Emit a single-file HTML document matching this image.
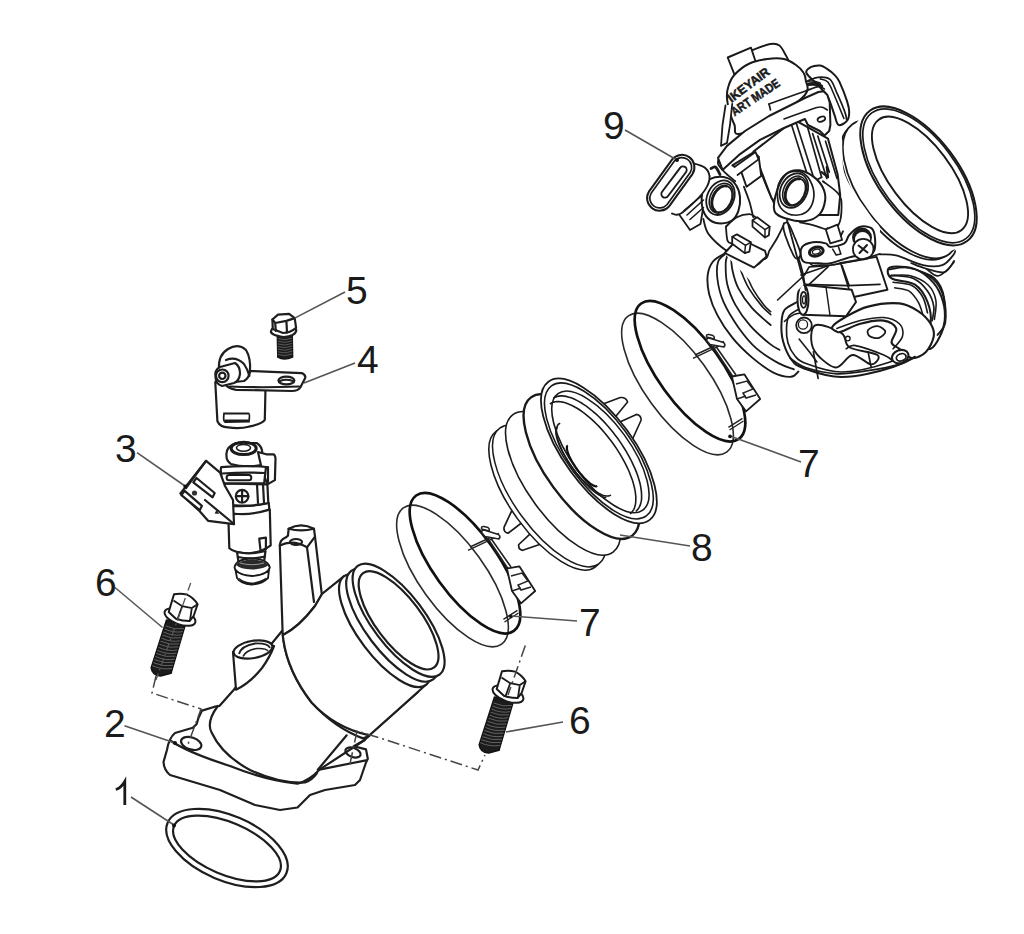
<!DOCTYPE html>
<html><head><meta charset="utf-8">
<style>
html,body{margin:0;padding:0;background:#fff;width:1024px;height:934px;overflow:hidden}
svg{display:block}
.t{font-family:"Liberation Sans",sans-serif;font-size:39px;fill:#1a1a1a}
.ld{stroke:#555;stroke-width:1.6;fill:none}
.s{stroke:#1e1e1e;stroke-width:2.2;fill:none;stroke-linejoin:round;stroke-linecap:round}
.f{stroke:#1e1e1e;stroke-width:2.2;fill:#fff;stroke-linejoin:round;stroke-linecap:round}
</style></head><body>
<svg width="1024" height="934" viewBox="0 0 1024 934">
<rect width="1024" height="934" fill="#fff"/>

<!-- 9 tb -->
<g id="tb">
<path d="M725.0,253.2 C720.7,253.5 715.8,257.9 713.0,261.5 C710.1,265.1 708.4,269.5 707.7,275.0 C707.1,280.5 707.6,287.7 709.2,294.4 C710.9,301.2 713.6,308.2 717.5,315.4 C721.3,322.7 726.7,330.9 732.5,337.9 C738.2,344.9 745.2,351.6 751.9,357.4 C758.7,363.1 766.4,369.1 772.9,372.3 C779.4,375.6 786.4,377.1 790.9,376.8 C795.4,376.6 800.9,377.8 799.9,370.8 C798.9,363.9 789.9,344.4 784.9,334.9 C779.9,325.4 774.9,321.4 769.9,313.9 C764.9,306.4 760.2,298.9 754.9,289.9 C749.7,281.0 743.4,266.1 738.4,260.0 C733.5,253.9 729.2,253.0 725.0,253.2 Z" fill="#fff" stroke="none" stroke-width="0.0" stroke-linejoin="round" stroke-linecap="round" />
<path d="M725.0,253.2 C723.0,254.6 715.8,257.9 713.0,261.5 C710.1,265.1 708.4,269.5 707.7,275.0 C707.1,280.5 707.6,287.7 709.2,294.4 C710.9,301.2 713.6,308.2 717.5,315.4 C721.3,322.7 726.7,330.9 732.5,337.9 C738.2,344.9 745.2,351.6 751.9,357.4 C758.7,363.1 766.4,369.1 772.9,372.3 C779.4,375.6 786.6,377.0 790.9,376.8 C795.1,376.7 797.1,372.5 798.4,371.6" fill="none" stroke="#1a1a1a" stroke-width="1.9040000000000001" stroke-linejoin="round" stroke-linecap="round" />
<path d="M726.5,253.2 C725.1,254.6 719.7,257.1 718.2,261.5 C716.7,265.8 716.6,272.7 717.5,279.5 C718.3,286.2 720.0,293.9 723.5,301.9 C727.0,309.9 733.0,319.7 738.4,327.4 C743.9,335.1 749.7,342.4 756.4,348.4 C763.2,354.4 772.7,359.9 778.9,363.4 C785.1,366.8 791.4,368.3 793.9,369.3" fill="none" stroke="#1a1a1a" stroke-width="1.7920000000000003" stroke-linejoin="round" stroke-linecap="round" />
<path d="M728.0,254.0 C727.6,255.5 725.8,258.0 725.7,263.0 C725.6,268.0 725.6,277.0 727.2,284.0 C728.8,290.9 731.6,297.9 735.4,304.9 C739.3,311.9 744.7,319.4 750.4,325.9 C756.2,332.4 765.0,339.9 769.9,343.9 C774.8,347.9 778.0,348.9 779.6,349.9" fill="none" stroke="#1a1a1a" stroke-width="1.7920000000000003" stroke-linejoin="round" stroke-linecap="round" />
<path d="M731.0,255.5 C731.2,258.0 731.2,265.0 732.5,270.5 C733.7,276.0 735.2,282.2 738.4,288.4 C741.7,294.7 746.6,301.8 751.9,307.9 C757.3,314.0 767.5,322.3 770.7,325.1" fill="none" stroke="#1a1a1a" stroke-width="1.7920000000000003" stroke-linejoin="round" stroke-linecap="round" />
<path d="M738.4,260.0 C738.9,262.0 739.7,267.2 741.4,272.0 C743.2,276.7 745.7,283.0 748.9,288.4 C752.2,293.9 757.3,300.6 760.9,304.9 C764.5,309.3 769.0,313.0 770.7,314.7" fill="none" stroke="#1a1a1a" stroke-width="1.6800000000000002" stroke-linejoin="round" stroke-linecap="round" />
<path d="M742.9,263.0 C743.6,265.0 744.9,270.5 746.7,275.0 C748.4,279.5 750.6,285.0 753.4,289.9 C756.3,294.9 761.0,301.3 763.9,304.9 C766.8,308.5 769.5,310.5 770.7,311.7" fill="none" stroke="#1a1a1a" stroke-width="1.568" stroke-linejoin="round" stroke-linecap="round" />
<ellipse cx="897.7" cy="191.5" rx="80.0" ry="39.0" transform="rotate(53.2 897.7 191.5)" fill="#fff" stroke="#1a1a1a" stroke-width="1.7920000000000003"/>
<ellipse cx="900.9" cy="189.1" rx="81.0" ry="39.7" transform="rotate(53.2 900.9 189.1)" fill="#fff" stroke="#1a1a1a" stroke-width="1.7920000000000003"/>
<ellipse cx="909.7" cy="182.5" rx="81.0" ry="39.7" transform="rotate(53.2 909.7 182.5)" fill="#fff" stroke="none" stroke-width="0.0"/>
<ellipse cx="918.5" cy="175.9" rx="81.3" ry="39.7" transform="rotate(53.2 918.5 175.9)" fill="#fff" stroke="#1a1a1a" stroke-width="2.0160000000000005"/>
<ellipse cx="918.8" cy="175.8" rx="78.5" ry="37.8" transform="rotate(53.2 918.8 175.8)" fill="none" stroke="#1a1a1a" stroke-width="1.6800000000000002"/>
<ellipse cx="920.0" cy="174.9" rx="69.0" ry="30.5" transform="rotate(53.2 920.0 174.9)" fill="none" stroke="#1a1a1a" stroke-width="1.9040000000000001"/>
<path d="M880.0,254.4 C882.7,254.6 889.0,253.7 896.1,255.4 C903.3,257.2 915.3,263.5 923.0,265.1 C930.7,266.7 937.3,266.7 942.3,265.1 C947.3,263.5 950.9,257.8 953.0,255.4 C955.2,253.1 954.8,251.9 955.2,251.1" fill="none" stroke="#1a1a1a" stroke-width="1.7920000000000003" stroke-linejoin="round" stroke-linecap="round" />
<path d="M911.1,263.0 C913.5,263.9 919.6,266.8 925.1,268.3 C930.7,269.9 939.6,273.3 944.4,272.1 C949.3,270.8 952.5,262.7 954.1,260.8" fill="none" stroke="#1a1a1a" stroke-width="1.6800000000000002" stroke-linejoin="round" stroke-linecap="round" />
<path d="M926.2,268.9 C928.0,270.0 933.5,275.6 936.9,275.9 C940.3,276.1 943.7,272.8 946.6,270.5 C949.5,268.2 952.9,263.3 954.1,261.9" fill="none" stroke="#1a1a1a" stroke-width="1.6800000000000002" stroke-linejoin="round" stroke-linecap="round" />
<path d="M797.0,302.0 C794.9,303.3 787.1,306.5 784.5,310.0 C781.9,313.5 781.8,317.8 781.5,323.0 C781.2,328.2 781.4,335.0 783.0,341.0 C784.6,347.0 787.7,354.5 791.0,359.0 C794.3,363.5 794.5,365.0 803.0,368.0 C811.5,371.0 827.0,377.2 842.0,377.0 C857.0,376.8 879.0,371.7 893.0,367.0 C907.0,362.3 918.0,355.8 926.0,349.0 C934.0,342.2 938.0,334.5 941.0,326.0 C944.0,317.5 945.2,306.0 944.0,298.0 C942.8,290.0 939.5,282.8 934.0,278.0 C928.5,273.2 918.3,270.7 911.0,269.0 C903.7,267.3 893.5,268.2 890.0,268.0" fill="#fff" stroke="#1a1a1a" stroke-width="2.0160000000000005" stroke-linejoin="round" stroke-linecap="round" />
<path d="M799.0,309.0 C797.3,310.2 791.1,312.8 789.0,316.0 C786.9,319.2 786.7,323.5 786.5,328.0 C786.3,332.5 786.6,338.3 788.0,343.0 C789.4,347.7 792.0,352.6 795.0,356.0 C798.0,359.4 798.2,360.8 806.0,363.5 C813.8,366.2 828.0,372.2 842.0,372.0 C856.0,371.8 876.8,366.5 890.0,362.0 C903.2,357.5 913.5,351.5 921.0,345.0 C928.5,338.5 932.2,330.8 935.0,323.0 C937.8,315.2 939.0,304.8 938.0,298.0 C937.0,291.2 934.0,286.0 929.0,282.0 C924.0,278.0 914.5,275.3 908.0,274.0 C901.5,272.7 893.0,274.0 890.0,274.0" fill="none" stroke="#1a1a1a" stroke-width="1.6800000000000002" stroke-linejoin="round" stroke-linecap="round" />
<path d="M784.4,321.4 C786.4,320.1 790.3,315.4 796.6,313.8 C802.9,312.1 816.1,311.2 822.0,311.2 C827.9,311.2 830.4,313.3 832.1,313.8" fill="none" stroke="#1a1a1a" stroke-width="1.568" stroke-linejoin="round" stroke-linecap="round" />
<path d="M890.0,267.5 C893.9,265.9 907.7,266.5 915.0,269.1 C922.3,271.7 929.1,277.7 933.8,283.1 C938.4,288.6 941.3,295.6 943.1,301.9 C944.9,308.1 945.2,314.9 944.7,320.6 C944.2,326.4 942.3,331.6 940.0,336.2 C937.7,340.9 933.5,347.7 930.6,348.8 C927.8,349.8 922.8,346.7 922.8,342.5 C922.8,338.3 929.8,330.5 930.6,323.8 C931.4,317.0 930.1,308.4 927.5,301.9 C924.9,295.4 921.0,288.6 915.0,284.7 C909.0,280.8 895.7,281.3 891.6,278.4 C887.4,275.6 886.1,269.1 890.0,267.5 Z" fill="#fff" stroke="#1a1a1a" stroke-width="2.0160000000000005" stroke-linejoin="round" stroke-linecap="round" />
<path d="M891.6,275.3 C895.2,275.8 907.4,275.8 913.4,278.4 C919.4,281.0 924.1,286.2 927.5,290.9 C930.9,295.6 933.0,301.6 933.8,306.6 C934.5,311.5 932.4,318.3 932.2,320.6" fill="none" stroke="#1a1a1a" stroke-width="1.6800000000000002" stroke-linejoin="round" stroke-linecap="round" />
<path d="M893.1,282.3 C896.2,282.9 906.9,283.0 911.9,285.5 C916.8,287.9 920.2,292.6 922.8,297.2 C925.4,301.7 926.7,310.2 927.5,312.8" fill="none" stroke="#1a1a1a" stroke-width="1.6800000000000002" stroke-linejoin="round" stroke-linecap="round" />
<path d="M894.7,287.8 C897.0,288.3 904.8,288.6 908.8,290.9 C912.7,293.3 915.8,298.0 918.1,301.9 C920.5,305.8 922.0,312.3 922.8,314.4" fill="none" stroke="#1a1a1a" stroke-width="1.568" stroke-linejoin="round" stroke-linecap="round" />
<path d="M815.0,325.3 C810.3,327.9 810.1,341.7 813.4,348.8 C816.8,355.8 828.8,366.5 835.3,367.5 C841.8,368.5 846.5,355.5 852.5,355.0 C858.5,354.5 867.1,364.4 871.2,364.4 C875.4,364.4 881.1,357.9 877.5,355.0 C873.9,352.1 855.4,350.8 849.4,347.2 C843.4,343.5 847.3,336.8 841.6,333.1 C835.8,329.5 819.7,322.7 815.0,325.3 Z" fill="#fff" stroke="#1a1a1a" stroke-width="1.9040000000000001" stroke-linejoin="round" stroke-linecap="round" />
<path d="M813.4,351.9 L818.1,378.4" fill="none" stroke="#1a1a1a" stroke-width="1.6800000000000002" stroke-linejoin="round" stroke-linecap="round" />
<path d="M868.1,351.9 L871.2,367.5" fill="none" stroke="#1a1a1a" stroke-width="1.6800000000000002" stroke-linejoin="round" stroke-linecap="round" />
<path d="M832.2,326.9 C833.5,324.5 838.7,320.9 844.7,317.5 C850.7,314.1 859.0,308.9 868.1,306.6 C877.2,304.2 891.0,302.7 899.4,303.4 C907.7,304.2 912.9,307.9 918.1,311.2 C923.3,314.6 928.0,319.6 930.6,323.8 C933.2,327.9 934.5,331.6 933.8,336.2 C933.0,340.9 929.6,348.2 925.9,351.9 C922.3,355.5 916.3,358.6 911.9,358.1 C907.4,357.6 902.8,351.4 899.4,348.8 C896.0,346.1 892.1,345.9 891.6,342.5 C891.0,339.1 897.6,332.1 896.2,328.4 C894.9,324.8 889.7,321.4 883.8,320.6 C877.8,319.8 867.3,321.9 860.3,323.8 C853.3,325.6 845.5,330.3 841.6,331.6 C837.7,332.9 838.4,332.3 836.9,331.6 C835.3,330.8 830.9,329.2 832.2,326.9 Z" fill="#fff" stroke="#1a1a1a" stroke-width="2.128" stroke-linejoin="round" stroke-linecap="round" />
<path d="M836.9,328.4 C840.8,327.1 852.5,322.4 860.3,320.6 C868.1,318.8 877.2,317.0 883.8,317.5 C890.3,318.0 896.2,320.6 899.4,323.8 C902.5,326.9 903.5,332.1 902.5,336.2 C901.5,340.4 894.7,346.7 893.1,348.8" fill="none" stroke="#1a1a1a" stroke-width="1.568" stroke-linejoin="round" stroke-linecap="round" />
<path d="M868.1,330.0 C869.4,328.3 874.6,325.8 877.5,326.1 C880.4,326.4 885.1,329.6 885.3,331.6 C885.6,333.5 881.7,337.0 879.1,337.8 C876.5,338.6 871.5,337.6 869.7,336.2 C867.9,334.9 866.8,331.7 868.1,330.0 Z" fill="none" stroke="#1a1a1a" stroke-width="1.7920000000000003" stroke-linejoin="round" stroke-linecap="round" />
<circle cx="847.8" cy="338.6" r="2.3" fill="none" stroke="#1a1a1a" stroke-width="1.4"/>
<path d="M846.2,348.8 C847.8,348.2 849.4,344.6 855.6,345.6 C861.9,346.7 877.5,352.4 883.8,355.0 C890.0,357.6 891.6,360.2 893.1,361.2" fill="none" stroke="#1a1a1a" stroke-width="1.6800000000000002" stroke-linejoin="round" stroke-linecap="round" />
<ellipse cx="900.2" cy="356.6" rx="8.5" ry="6.5" transform="rotate(-20 900.2 356.6)" fill="#fff" stroke="#1a1a1a" stroke-width="2.128"/>
<ellipse cx="901.2" cy="357.3" rx="5.0" ry="3.5" transform="rotate(-20 901.2 357.3)" fill="#fff" stroke="#1a1a1a" stroke-width="1.7920000000000003"/>
<path d="M790.0,358.1 C792.6,359.7 797.8,364.9 805.6,367.5 C813.4,370.1 826.5,373.2 836.9,373.8 C847.3,374.3 857.7,372.2 868.1,370.6 C878.5,369.1 891.6,366.7 899.4,364.4 C907.2,362.0 912.4,357.9 915.0,356.6" fill="none" stroke="#1a1a1a" stroke-width="1.7920000000000003" stroke-linejoin="round" stroke-linecap="round" />
<circle cx="804" cy="325.3" r="7.8" fill="#fff" stroke="#1a1a1a" stroke-width="1.8"/>
<circle cx="803" cy="324.5" r="4.6" fill="none" stroke="#1a1a1a" stroke-width="1.3"/>
<path d="M799.1,339.1 L809.3,351.8 L816.9,362.0" fill="none" stroke="#1a1a1a" stroke-width="1.568" stroke-linejoin="round" stroke-linecap="round" />
<path d="M800.0,272.0 L840.6,263.0 L876.6,256.9 L887.5,289.7 L851.6,297.5 L804.0,286.0 Z" fill="#fff" stroke="#1a1a1a" stroke-width="1.9040000000000001" stroke-linejoin="round" stroke-linecap="round" />
<path d="M840.6,263.0 L851.6,297.5" fill="none" stroke="#1a1a1a" stroke-width="1.6800000000000002" stroke-linejoin="round" stroke-linecap="round" />
<path d="M803.0,284.8 L851.6,289.7 L856.0,302.0 L846.0,316.3 L803.0,314.8 Z" fill="#fff" stroke="#1a1a1a" stroke-width="2.0160000000000005" stroke-linejoin="round" stroke-linecap="round" />
<path d="M826.0,287.0 L830.0,315.5" fill="none" stroke="#1a1a1a" stroke-width="1.4560000000000002" stroke-linejoin="round" stroke-linecap="round" />
<ellipse cx="803.0" cy="299.8" rx="5.5" ry="15.0" transform="rotate(0 803.0 299.8)" fill="#fff" stroke="#1a1a1a" stroke-width="2.0160000000000005"/>
<ellipse cx="803.6" cy="299.8" rx="3.0" ry="8.0" transform="rotate(0 803.6 299.8)" fill="none" stroke="#1a1a1a" stroke-width="1.6800000000000002"/>
<ellipse cx="804.0" cy="299.8" rx="1.5" ry="4.0" transform="rotate(0 804.0 299.8)" fill="none" stroke="#1a1a1a" stroke-width="1.344"/>
<path d="M889.1,269.4 C892.4,269.1 902.1,266.2 909.4,267.8 C916.7,269.4 927.1,273.8 932.8,278.8 C938.5,283.7 941.7,290.2 943.8,297.5 C945.8,304.8 946.4,316.2 945.3,322.5 C944.3,328.8 938.8,332.9 937.5,335.0" fill="none" stroke="#1a1a1a" stroke-width="1.7920000000000003" stroke-linejoin="round" stroke-linecap="round" />
<path d="M890.6,275.6 C893.8,275.6 903.1,274.1 909.4,275.6 C915.6,277.2 923.7,280.8 928.1,285.0 C932.6,289.2 934.9,294.9 935.9,300.6 C937.0,306.4 934.6,316.2 934.4,319.4" fill="none" stroke="#1a1a1a" stroke-width="1.568" stroke-linejoin="round" stroke-linecap="round" />
<path d="M717.0,160.0 C726.5,151.7 746.2,142.0 760.0,135.0 C773.8,128.0 787.0,119.7 800.0,118.0 C813.0,116.3 830.5,115.5 838.0,125.0 C845.5,134.5 839.7,160.0 845.0,175.0 C850.3,190.0 864.2,205.8 870.0,215.0 C875.8,224.2 880.0,223.3 880.0,230.0 C880.0,236.7 876.7,249.7 870.0,255.0 C863.3,260.3 850.8,257.2 840.0,262.0 C829.2,266.8 815.7,276.7 805.0,284.0 C794.3,291.3 786.0,307.5 776.0,306.0 C766.0,304.5 754.7,285.2 745.0,275.0 C735.3,264.8 725.0,255.0 718.0,245.0 C711.0,235.0 705.5,225.0 703.0,215.0 C700.5,205.0 700.7,194.2 703.0,185.0 C705.3,175.8 707.5,168.3 717.0,160.0 Z" fill="#fff" stroke="none" stroke-width="0.0" stroke-linejoin="round" stroke-linecap="round" />
<path d="M704.8,183.6 C707.1,180.3 711.2,178.3 715.0,177.3 C718.8,176.4 724.0,176.8 727.5,178.1 C731.0,179.4 734.0,182.0 736.1,185.2 C738.2,188.3 739.6,192.6 740.0,196.9 C740.4,201.2 739.7,207.0 738.4,210.9 C737.1,214.8 735.1,218.2 732.2,220.3 C729.3,222.4 724.9,223.4 721.2,223.4 C717.6,223.4 713.3,222.4 710.3,220.3 C707.3,218.2 704.7,214.8 703.3,210.9 C701.8,207.0 701.5,201.4 701.7,196.9 C702.0,192.3 702.6,186.8 704.8,183.6 Z" fill="#fff" stroke="#1a1a1a" stroke-width="2.0160000000000005" stroke-linejoin="round" stroke-linecap="round" />
<ellipse cx="720.5" cy="197.7" rx="13.3" ry="18.0" transform="rotate(25 720.5 197.7)" fill="#fff" stroke="#1a1a1a" stroke-width="1.7920000000000003"/>
<ellipse cx="721.2" cy="198.2" rx="11.0" ry="15.6" transform="rotate(25 721.2 198.2)" fill="none" stroke="#1a1a1a" stroke-width="1.568"/>
<ellipse cx="722.0" cy="199.0" rx="9.2" ry="13.8" transform="rotate(25 722.0 199.0)" fill="none" stroke="#1a1a1a" stroke-width="1.568"/>
<path d="M714.8,210.6 L714.2,210.0 L713.6,209.3 L713.1,208.5 L712.7,207.7 L712.3,206.7 L712.1,205.7 L711.9,204.6 L711.8,203.5 L711.8,202.3 L711.9,201.1 L712.1,199.9 L712.4,198.7 L712.7,197.5 L713.2,196.3 L713.7,195.1 L714.2,194.0 L714.9,192.9 L715.6,191.8 L716.4,190.8 L717.2,189.9 L718.0,189.1 L718.9,188.3 L719.8,187.7 L720.8,187.1 L721.7,186.6 L722.6,186.3 L723.6,186.1 L724.5,185.9 L725.4,185.9 L726.3,186.0" fill="none" stroke="#1a1a1a" stroke-width="2.9120000000000004" stroke-linejoin="round" stroke-linecap="round" />
<path d="M719.7,156.2 C719.4,157.6 717.1,161.2 718.1,164.1 C719.2,166.9 723.1,170.6 725.9,173.4 C728.8,176.3 733.8,179.9 735.3,181.2" fill="none" stroke="#1a1a1a" stroke-width="1.7920000000000003" stroke-linejoin="round" stroke-linecap="round" />
<path d="M755.6,153.9 C756.9,157.9 760.8,171.0 763.4,178.1 C766.0,185.3 768.9,191.7 771.2,196.9 C773.6,202.1 774.9,206.0 777.5,209.4 C780.1,212.8 785.3,215.9 786.9,217.2" fill="none" stroke="#1a1a1a" stroke-width="1.9040000000000001" stroke-linejoin="round" stroke-linecap="round" />
<path d="M743.9,186.7 C744.8,189.2 747.8,196.5 749.4,201.6 C750.9,206.6 752.6,214.6 753.3,217.2" fill="none" stroke="#1a1a1a" stroke-width="1.7920000000000003" stroke-linejoin="round" stroke-linecap="round" />
<path d="M703.3,218.8 C704.2,221.4 704.7,228.9 708.8,234.4 C712.8,239.8 720.2,246.4 727.5,251.6 C734.8,256.8 746.5,264.3 752.5,265.6 C758.5,266.9 761.6,260.4 763.4,259.4" fill="none" stroke="#1a1a1a" stroke-width="1.7920000000000003" stroke-linejoin="round" stroke-linecap="round" />
<path d="M725.9,226.6 C727.8,225.0 733.0,219.3 736.9,217.2 C740.8,215.1 746.2,214.1 749.4,214.1 C752.5,214.1 754.6,216.7 755.6,217.2" fill="none" stroke="#1a1a1a" stroke-width="1.7920000000000003" stroke-linejoin="round" stroke-linecap="round" />
<path d="M725.9,226.6 C726.2,228.9 726.5,237.8 727.5,240.6 C728.5,243.5 731.4,243.2 732.2,243.8" fill="none" stroke="#1a1a1a" stroke-width="1.7920000000000003" stroke-linejoin="round" stroke-linecap="round" />
<path d="M725.9,250.0 C727.5,251.0 729.1,254.7 735.3,256.2 C741.6,257.8 757.7,260.4 763.4,259.4 C769.2,258.3 767.3,253.6 769.7,250.0 C772.0,246.4 775.2,241.7 777.5,237.5 C779.8,233.3 782.7,227.1 783.8,225.0" fill="none" stroke="#1a1a1a" stroke-width="1.7920000000000003" stroke-linejoin="round" stroke-linecap="round" />
<path d="M752.5,220.3 L757.2,217.2 L769.7,226.6 L768.9,235.2 L765.0,237.5 L752.5,226.6 Z" fill="#fff" stroke="#1a1a1a" stroke-width="1.7920000000000003" stroke-linejoin="round" stroke-linecap="round" />
<path d="M752.5,220.3 L765.0,229.7 L769.7,226.6" fill="none" stroke="#1a1a1a" stroke-width="1.4560000000000002" stroke-linejoin="round" stroke-linecap="round" />
<path d="M765.0,229.7 L765.0,237.5" fill="none" stroke="#1a1a1a" stroke-width="1.4560000000000002" stroke-linejoin="round" stroke-linecap="round" />
<path d="M749.0,243.0 L765.1,250.9 L766.5,256.4 L754.0,267.6 L724.8,253.0 L733.0,244.0 Z" fill="#fff" stroke="#1a1a1a" stroke-width="1.9040000000000001" stroke-linejoin="round" stroke-linecap="round" />
<path d="M732.2,236.7 L736.9,234.4 L750.9,242.2 L749.4,251.6 L744.7,253.1 L732.2,243.8 Z" fill="#fff" stroke="#1a1a1a" stroke-width="1.7920000000000003" stroke-linejoin="round" stroke-linecap="round" />
<path d="M732.2,236.7 L745.5,245.3 L750.9,242.2" fill="none" stroke="#1a1a1a" stroke-width="1.4560000000000002" stroke-linejoin="round" stroke-linecap="round" />
<path d="M745.5,245.3 L744.7,253.1" fill="none" stroke="#1a1a1a" stroke-width="1.4560000000000002" stroke-linejoin="round" stroke-linecap="round" />
<path d="M753.5,151.5 L790.8,122.6 L797.2,121.3 L807.5,127.1 L828.0,138.7 L837.7,174.6 L840.2,195.2 L838.3,215.0 L786.9,215.0 L779.2,208.0 L771.5,197.8 L766.4,184.9 L754.8,154.1 Z" fill="#fff" stroke="#1a1a1a" stroke-width="2.0160000000000005" stroke-linejoin="round" stroke-linecap="round" />
<path d="M790.8,122.6 L810.1,183.6" fill="none" stroke="#1a1a1a" stroke-width="1.6800000000000002" stroke-linejoin="round" stroke-linecap="round" />
<path d="M795.9,122.0 L813.9,178.5" fill="none" stroke="#1a1a1a" stroke-width="1.6800000000000002" stroke-linejoin="round" stroke-linecap="round" />
<path d="M807.5,127.1 L821.6,177.2" fill="none" stroke="#1a1a1a" stroke-width="1.6800000000000002" stroke-linejoin="round" stroke-linecap="round" />
<path d="M812.6,133.5 L826.8,178.5" fill="none" stroke="#1a1a1a" stroke-width="1.6800000000000002" stroke-linejoin="round" stroke-linecap="round" />
<path d="M817.8,136.1 L829.3,172.1" fill="none" stroke="#1a1a1a" stroke-width="1.6800000000000002" stroke-linejoin="round" stroke-linecap="round" />
<path d="M825.5,141.2 L837.0,178.5" fill="none" stroke="#1a1a1a" stroke-width="1.6800000000000002" stroke-linejoin="round" stroke-linecap="round" />
<path d="M821.6,172.1 L828.0,177.2 L826.8,166.9" fill="none" stroke="#1a1a1a" stroke-width="2.24" stroke-linejoin="round" stroke-linecap="round" />
<path d="M810.1,183.6 L821.6,177.2" fill="none" stroke="#1a1a1a" stroke-width="1.6800000000000002" stroke-linejoin="round" stroke-linecap="round" />
<path d="M732.3,165.4 L753.5,152.2 L758.7,156.7 L761.2,175.9 L746.5,186.8 L740.7,170.1 Z" fill="#fff" stroke="#1a1a1a" stroke-width="1.9040000000000001" stroke-linejoin="round" stroke-linecap="round" />
<path d="M740.7,170.1 L754.8,159.2 L758.7,156.7" fill="none" stroke="#1a1a1a" stroke-width="1.6800000000000002" stroke-linejoin="round" stroke-linecap="round" />
<path d="M774.4,210.9 C772.8,206.0 775.4,195.3 777.5,189.1 C779.6,182.8 783.2,176.6 786.9,173.4 C790.5,170.3 794.9,169.8 799.4,170.3 C803.8,170.8 809.5,173.7 813.4,176.6 C817.3,179.4 820.9,183.6 822.8,187.5 C824.8,191.4 825.7,195.6 825.2,200.0 C824.6,204.4 822.9,210.5 819.7,214.1 C816.4,217.6 811.1,220.3 805.6,221.1 C800.2,221.9 792.1,220.4 786.9,218.8 C781.7,217.1 775.9,215.9 774.4,210.9 Z" fill="#fff" stroke="#1a1a1a" stroke-width="2.0160000000000005" stroke-linejoin="round" stroke-linecap="round" />
<path d="M779.1,182.8 C780.9,178.8 784.5,174.3 788.4,172.7 C792.3,171.0 798.6,170.7 802.5,172.7 C806.4,174.6 810.1,179.8 811.9,184.4 C813.7,188.9 814.5,195.3 813.4,200.0 C812.4,204.7 809.3,210.0 805.6,212.5 C802.0,215.0 795.7,215.6 791.6,214.8 C787.4,214.1 783.0,210.8 780.6,207.8 C778.3,204.8 777.8,201.0 777.5,196.9 C777.2,192.7 777.2,186.8 779.1,182.8 Z" fill="none" stroke="#1a1a1a" stroke-width="1.6800000000000002" stroke-linejoin="round" stroke-linecap="round" />
<ellipse cx="793.9" cy="190.6" rx="13.3" ry="18.0" transform="rotate(25 793.9 190.6)" fill="#fff" stroke="#1a1a1a" stroke-width="1.7920000000000003"/>
<ellipse cx="794.6" cy="191.0" rx="11.0" ry="15.6" transform="rotate(25 794.6 191.0)" fill="none" stroke="#1a1a1a" stroke-width="1.568"/>
<ellipse cx="795.4" cy="191.8" rx="9.2" ry="13.8" transform="rotate(25 795.4 191.8)" fill="none" stroke="#1a1a1a" stroke-width="1.568"/>
<path d="M788.2,203.4 L787.6,202.8 L787.0,202.1 L786.5,201.3 L786.1,200.5 L785.7,199.5 L785.5,198.5 L785.3,197.4 L785.2,196.3 L785.2,195.1 L785.3,193.9 L785.5,192.7 L785.8,191.5 L786.1,190.3 L786.6,189.1 L787.1,187.9 L787.6,186.8 L788.3,185.7 L789.0,184.6 L789.8,183.6 L790.6,182.7 L791.4,181.9 L792.3,181.1 L793.2,180.5 L794.2,179.9 L795.1,179.4 L796.0,179.1 L797.0,178.9 L797.9,178.7 L798.8,178.7 L799.7,178.8" fill="none" stroke="#1a1a1a" stroke-width="2.9120000000000004" stroke-linejoin="round" stroke-linecap="round" />
<path d="M822.8,181.2 C825.4,183.3 835.3,189.6 838.4,193.8 C841.6,197.9 841.6,201.0 841.6,206.2 C841.6,211.5 840.8,221.1 838.4,225.0 C836.1,228.9 829.3,228.9 827.5,229.7" fill="none" stroke="#1a1a1a" stroke-width="1.7920000000000003" stroke-linejoin="round" stroke-linecap="round" />
<path d="M827.5,228.1 L829.1,239.8 L840.0,237.5 L843.1,231.2" fill="none" stroke="#1a1a1a" stroke-width="1.7920000000000003" stroke-linejoin="round" stroke-linecap="round" />
<path d="M783.8,223.4 C784.8,225.8 787.7,232.0 790.0,237.5 C792.3,243.0 795.7,250.5 797.8,256.2 C799.9,262.0 801.2,266.2 802.5,271.9 C803.8,277.5 805.1,287.0 805.6,290.0" fill="none" stroke="#1a1a1a" stroke-width="1.7920000000000003" stroke-linejoin="round" stroke-linecap="round" />
<path d="M786.1,225.0 C787.1,227.6 790.1,235.2 792.3,240.6 C794.6,246.1 798.2,254.9 799.4,257.8" fill="none" stroke="#1a1a1a" stroke-width="1.568" stroke-linejoin="round" stroke-linecap="round" />
<path d="M783.4,225.2 C783.9,223.3 786.2,221.2 788.1,223.4 C790.1,225.7 793.1,233.7 795.2,238.7 C797.2,243.7 800.1,250.0 800.4,253.3 C800.8,256.7 798.7,258.3 797.5,258.6 C796.3,258.9 795.5,259.0 793.4,255.1 C791.4,251.2 786.9,240.2 785.2,235.2 C783.5,230.2 783.0,227.2 783.4,225.2 Z" fill="#fff" stroke="#1a1a1a" stroke-width="1.7920000000000003" stroke-linejoin="round" stroke-linecap="round" />
<path d="M825.7,229.3 L830.3,243.4 L842.1,239.9 L837.4,224.6 Z" fill="#fff" stroke="#1a1a1a" stroke-width="1.7920000000000003" stroke-linejoin="round" stroke-linecap="round" />
<path d="M799.9,222.3 C802.0,222.8 808.5,224.0 812.8,225.2 C817.1,226.4 823.5,228.6 825.7,229.3" fill="none" stroke="#1a1a1a" stroke-width="1.7920000000000003" stroke-linejoin="round" stroke-linecap="round" />
<path d="M801.0,256.3 C800.6,253.7 800.3,249.2 802.2,246.9 C804.2,244.5 808.8,242.8 812.8,242.2 C816.7,241.6 822.7,242.6 825.7,243.4 C828.6,244.2 827.2,246.9 830.3,246.9 C833.5,246.9 841.3,245.3 844.4,243.4 C847.5,241.4 846.6,237.9 849.1,235.2 C851.6,232.4 855.9,228.1 859.6,227.0 C863.4,225.8 868.8,226.4 871.4,228.1 C873.9,229.9 874.5,233.6 874.9,237.5 C875.3,241.4 875.7,248.3 873.7,251.6 C871.8,254.9 866.5,256.7 863.2,257.4 C859.8,258.2 859.3,255.3 853.8,256.3 C848.3,257.2 836.2,262.1 830.3,263.3 C824.5,264.5 822.9,263.5 818.6,263.3 C814.3,263.1 807.5,263.3 804.5,262.1 C801.6,261.0 801.4,258.8 801.0,256.3 Z" fill="#fff" stroke="#1a1a1a" stroke-width="2.0160000000000005" stroke-linejoin="round" stroke-linecap="round" />
<ellipse cx="816.3" cy="251.6" rx="7.0" ry="4.5" transform="rotate(-15 816.3 251.6)" fill="#fff" stroke="#1a1a1a" stroke-width="2.9120000000000004"/>
<ellipse cx="816.3" cy="251.6" rx="4.0" ry="2.4" transform="rotate(-15 816.3 251.6)" fill="none" stroke="#1a1a1a" stroke-width="1.344"/>
<path d="M832.7,249.2 L836.2,255.1 L840.9,253.9 L838.5,246.9" fill="none" stroke="#1a1a1a" stroke-width="1.568" stroke-linejoin="round" stroke-linecap="round" />
<path d="M810.4,263.9 L812.8,265.7 L821.0,265.1 L828.0,265.7" fill="none" stroke="#1a1a1a" stroke-width="1.4560000000000002" stroke-linejoin="round" stroke-linecap="round" />
<circle cx="862" cy="237.5" r="10" fill="#1a1a1a"/>
<circle cx="862.5" cy="239.5" r="7.5" fill="#fff"/>
<circle cx="863.2" cy="249.2" r="10.3" fill="#fff" stroke="#1a1a1a" stroke-width="1.8"/>
<path d="M858.5,245.5 L867.5,252.5 M867,245 L859.5,253" fill="none" stroke="#1a1a1a" stroke-width="2.0160000000000005" stroke-linejoin="round" stroke-linecap="round" />
<path d="M801.0,275.0 L828.0,265.7" fill="none" stroke="#1a1a1a" stroke-width="1.6800000000000002" stroke-linejoin="round" stroke-linecap="round" />
<path d="M809.2,284.4 L828.0,266.8" fill="none" stroke="#1a1a1a" stroke-width="1.6800000000000002" stroke-linejoin="round" stroke-linecap="round" />
<path d="M804.5,284.4 L847.9,285.6 L880.0,284.4" fill="none" stroke="#1a1a1a" stroke-width="1.6800000000000002" stroke-linejoin="round" stroke-linecap="round" />
<path d="M842.1,265.7 L849.1,285.6" fill="none" stroke="#1a1a1a" stroke-width="1.6800000000000002" stroke-linejoin="round" stroke-linecap="round" />
<path d="M828.0,265.7 L860.8,259.8 L880.0,253.9" fill="none" stroke="#1a1a1a" stroke-width="1.6800000000000002" stroke-linejoin="round" stroke-linecap="round" />
<path d="M777.6,300.0 L804.5,275.0 L809.2,266.8 L828.0,265.7" fill="none" stroke="#1a1a1a" stroke-width="1.6800000000000002" stroke-linejoin="round" stroke-linecap="round" />
<path d="M787.0,219.9 L804.5,284.4" fill="none" stroke="#1a1a1a" stroke-width="1.7920000000000003" stroke-linejoin="round" stroke-linecap="round" />
<path d="M806.4,73.0 C805.2,70.0 808.4,68.4 810.7,67.1 C813.0,65.9 817.6,65.3 820.3,65.5 C823.0,65.8 824.4,67.2 826.7,68.7 C829.1,70.3 832.1,72.4 834.2,74.6 C836.4,76.9 837.5,77.7 839.6,82.1 C841.7,86.6 845.5,96.4 847.1,101.4 C848.7,106.4 849.2,108.9 849.2,112.1 C849.2,115.3 848.9,118.5 847.1,120.7 C845.3,122.8 840.7,126.0 838.5,124.9 C836.4,123.9 836.0,118.9 834.2,114.2 C832.5,109.6 830.5,101.9 827.8,97.1 C825.1,92.3 821.7,89.3 818.2,85.3 C814.6,81.3 807.7,76.1 806.4,73.0 Z" fill="#fff" stroke="#1a1a1a" stroke-width="2.0160000000000005" stroke-linejoin="round" stroke-linecap="round" />
<path d="M807.5,81.0 C809.3,80.4 814.4,77.6 818.2,77.3 C821.9,77.0 826.9,77.0 830.0,79.4 C833.0,81.9 833.9,86.3 836.4,91.8 C838.9,97.2 843.3,107.5 844.9,112.1 C846.6,116.7 846.3,118.3 846.6,119.6" fill="none" stroke="#1a1a1a" stroke-width="1.6800000000000002" stroke-linejoin="round" stroke-linecap="round" />
<path d="M820.3,78.9 C821.6,79.4 825.5,79.4 827.8,82.1 C830.1,84.8 831.6,88.9 834.2,95.0 C836.9,101.0 842.3,114.6 843.9,118.5" fill="none" stroke="#1a1a1a" stroke-width="1.568" stroke-linejoin="round" stroke-linecap="round" />
<path d="M802.1,87.5 C803.2,86.9 806.0,84.8 808.5,84.3 C811.0,83.7 815.0,83.9 817.1,84.3 C819.3,84.6 820.7,86.0 821.4,86.4" fill="none" stroke="#1a1a1a" stroke-width="3.5840000000000005" stroke-linejoin="round" stroke-linecap="round" />
<path d="M802.1,87.5 C802.7,86.6 803.5,83.2 805.3,82.1 C807.1,81.0 810.3,80.9 812.8,81.0 C815.3,81.2 819.1,82.8 820.3,83.2" fill="none" stroke="#1a1a1a" stroke-width="1.6800000000000002" stroke-linejoin="round" stroke-linecap="round" />
<path d="M727.7,57.5 L751.0,47.7 L755.5,61.2 L734.5,74.7 Z" fill="#fff" stroke="#1a1a1a" stroke-width="1.9040000000000001" stroke-linejoin="round" stroke-linecap="round" />
<path d="M752.5,50.0 C755.5,49.0 766.0,44.7 770.5,44.0 C775.0,43.2 776.8,43.5 779.5,45.5 C782.1,47.5 784.7,53.5 786.2,56.0 C787.7,58.5 788.1,59.7 788.5,60.5" fill="#fff" stroke="#1a1a1a" stroke-width="1.9040000000000001" stroke-linejoin="round" stroke-linecap="round" />
<path d="M734.5,74.7 C731.0,78.5 729.7,82.1 728.5,86.0 C727.2,89.8 726.7,93.5 727.0,98.0 C727.2,102.5 728.7,108.5 730.0,113.0 C731.2,117.5 733.0,121.5 734.5,125.0 C736.0,128.5 732.7,135.0 739.0,134.0 C745.2,133.0 761.0,125.5 772.0,119.0 C783.0,112.5 799.3,101.5 804.9,95.0 C810.6,88.5 805.9,83.7 805.7,80.0 C805.4,76.2 805.1,75.0 803.4,72.5 C801.8,70.0 799.2,67.2 796.0,65.0 C792.7,62.7 788.7,60.0 784.0,59.0 C779.2,58.0 773.2,58.2 767.5,59.0 C761.7,59.7 755.0,60.9 749.5,63.5 C744.0,66.1 738.0,71.0 734.5,74.7 Z" fill="#fff" stroke="#1a1a1a" stroke-width="2.0160000000000005" stroke-linejoin="round" stroke-linecap="round" />
<path d="M725.5,105.5 L722.5,125.0 L721.0,145.9 L727.0,142.9 L730.0,125.0 L732.2,104.0" fill="#fff" stroke="#1a1a1a" stroke-width="1.7920000000000003" stroke-linejoin="round" stroke-linecap="round" />
<text transform="translate(731.5,103) rotate(-37)" font-family="'Liberation Sans', sans-serif" font-weight="bold" font-size="12.5" fill="#1a1a1a" stroke="#1a1a1a" stroke-width="0.5" textLength="49" lengthAdjust="spacingAndGlyphs">IKEYAIR</text>
<text transform="translate(734.5,116.5) rotate(-34)" font-family="'Liberation Sans', sans-serif" font-weight="bold" font-size="12.5" fill="#1a1a1a" stroke="#1a1a1a" stroke-width="0.5" textLength="56" lengthAdjust="spacingAndGlyphs">ART MADE</text>
<path d="M718.0,157.9 L727.0,145.9 L745.0,131.0 L769.0,116.0 L790.0,105.5 L804.9,98.0 L818.4,92.0 L823.7,91.2 L827.4,95.0 L829.7,102.5 L830.4,125.0 L829.2,131.0 L824.4,135.4 L819.9,131.0 L807.9,125.0 L804.9,119.0 L784.0,128.0 L760.0,139.9 L739.0,154.9 L722.5,169.9 Z" fill="#fff" stroke="#1a1a1a" stroke-width="2.0160000000000005" stroke-linejoin="round" stroke-linecap="round" />
<path d="M769.0,104.0 C772.5,102.7 784.0,98.6 790.0,96.5 C796.0,94.3 800.2,92.8 804.9,91.2 C809.7,89.6 815.2,87.1 818.4,86.7 C821.7,86.3 823.4,88.6 824.4,89.0" fill="none" stroke="#1a1a1a" stroke-width="1.6800000000000002" stroke-linejoin="round" stroke-linecap="round" />
<path d="M769.0,104.0 L770.5,110.0" fill="none" stroke="#1a1a1a" stroke-width="1.6800000000000002" stroke-linejoin="round" stroke-linecap="round" />
<path d="M784.0,119.0 C787.5,117.7 799.0,113.5 804.9,111.5 C810.9,109.5 816.2,107.2 819.9,107.0 C823.7,106.7 826.2,109.5 827.4,110.0" fill="none" stroke="#1a1a1a" stroke-width="1.568" stroke-linejoin="round" stroke-linecap="round" />
<ellipse cx="821.4" cy="119.1" rx="4.0" ry="2.4" transform="rotate(-20 821.4 119.1)" fill="none" stroke="#1a1a1a" stroke-width="1.6800000000000002"/>
<path d="M734.5,166.9 L755.5,151.9 L758.5,159.4 L737.5,175.0" fill="#fff" stroke="#1a1a1a" stroke-width="1.7920000000000003" stroke-linejoin="round" stroke-linecap="round" />
<path d="M690.0,162.5 C692.5,163.4 701.7,165.0 705.0,167.7 C708.2,170.5 710.0,174.6 709.5,179.0 C709.0,183.4 706.7,188.2 702.0,194.0 C697.2,199.7 686.0,210.2 681.0,213.5 C676.0,216.7 673.5,213.5 672.0,213.5" fill="#fff" stroke="#1a1a1a" stroke-width="1.9040000000000001" stroke-linejoin="round" stroke-linecap="round" />
<path d="M679.5,215.0 L690.0,230.0 L700.5,224.0 L702.7,210.5" fill="#fff" stroke="#1a1a1a" stroke-width="1.7920000000000003" stroke-linejoin="round" stroke-linecap="round" />
<path d="M684.0,210.5 L702.0,195.5" fill="none" stroke="#1a1a1a" stroke-width="1.568" stroke-linejoin="round" stroke-linecap="round" />
<path d="M687.0,215.0 L703.5,200.0" fill="none" stroke="#1a1a1a" stroke-width="1.568" stroke-linejoin="round" stroke-linecap="round" />
<path d="M690.0,219.5 L703.5,207.5" fill="none" stroke="#1a1a1a" stroke-width="1.568" stroke-linejoin="round" stroke-linecap="round" />
<path d="M711.0,168.5 C711.7,168.2 714.0,166.0 715.5,167.0 C717.0,168.0 719.2,173.2 720.0,174.5" fill="none" stroke="#1a1a1a" stroke-width="2.8000000000000003" stroke-linejoin="round" stroke-linecap="round" />
<path d="M669.1,206.3 L692.6,173.8 A12.5,12.5 0 0 0 672.4,159.2 L648.9,191.7 A12.5,12.5 0 0 0 669.1,206.3 Z" fill="#fff" stroke="#1a1a1a" stroke-width="2.0160000000000005" stroke-linejoin="round" stroke-linecap="round" />
<path d="M666.9,204.7 L690.4,172.2 A9.8,9.8 0 0 0 674.6,160.8 L651.1,193.3 A9.8,9.8 0 0 0 666.9,204.7 Z" fill="none" stroke="#1a1a1a" stroke-width="1.6800000000000002" stroke-linejoin="round" stroke-linecap="round" />
<path d="M667.9,196.2 L685.9,172.2 A3.6,3.6 0 0 0 680.1,167.8 L662.1,191.8 A3.6,3.6 0 0 0 667.9,196.2 Z" fill="none" stroke="#1a1a1a" stroke-width="1.9040000000000001" stroke-linejoin="round" stroke-linecap="round" />
</g>
<!-- /9 tb -->
<!-- 8 joint -->
<g id="joint">
<path d="M514,506 L504.2,526.9 Q503,532 508,533.2 L522.7,522 L531.5,532.7 L518.8,544.5 Q518,549.5 522.7,550.3 L544,543 Z" fill="#fff" stroke="#1a1a1a" stroke-width="1.7" stroke-linejoin="round"/>
<ellipse cx="545.6" cy="499.2" rx="84.0" ry="34.2" transform="rotate(53.9 545.6 499.2)" fill="#fff" stroke="#1a1a1a" stroke-width="1.6"/>
<ellipse cx="549.3" cy="495.9" rx="84.0" ry="34.2" transform="rotate(53.9 549.3 495.9)" fill="#fff" stroke="#1a1a1a" stroke-width="1.5"/>
<ellipse cx="563.0" cy="483.4" rx="85.0" ry="34.6" transform="rotate(53.9 563.0 483.4)" fill="#fff" stroke="#1a1a1a" stroke-width="1.6"/>
<ellipse cx="581.5" cy="466.6" rx="85.7" ry="34.9" transform="rotate(53.9 581.5 466.6)" fill="#fff" stroke="#1a1a1a" stroke-width="2.4"/>
<path d="M601,404.7 L620.3,397.5 Q626,397 627.6,402 L615.5,416.8 L610,420 Z" fill="#fff" stroke="#1a1a1a" stroke-width="1.6" stroke-linejoin="round"/>
<path d="M617.1,423.2 L636.4,414.4 Q641,415 641.2,420 L632.4,439.3 L626,442 Z" fill="#fff" stroke="#1a1a1a" stroke-width="1.6" stroke-linejoin="round"/>
<ellipse cx="598.9" cy="450.9" rx="85.7" ry="34.9" transform="rotate(53.9 598.9 450.9)" fill="#fff" stroke="#1a1a1a" stroke-width="1.8"/>
<ellipse cx="598.9" cy="450.9" rx="80.5" ry="32.8" transform="rotate(53.9 598.9 450.9)" fill="none" stroke="#1a1a1a" stroke-width="1.6"/>
<ellipse cx="600.4" cy="451.9" rx="72.0" ry="29.3" transform="rotate(53.9 600.4 451.9)" fill="none" stroke="#1a1a1a" stroke-width="1.6"/>
<path d="M553.2,398.3 L554.4,397.5 L555.8,396.9 L557.3,396.4 L558.9,396.1 L560.5,395.9 L562.3,395.9 L564.2,396.1 L566.1,396.4 L568.1,396.9 L570.2,397.5 L572.4,398.3 L574.6,399.3 L576.8,400.4 L579.2,401.6 L581.5,403.0 L583.9,404.6 L586.3,406.2 L588.8,408.1 L591.3,410.0 L593.7,412.1 L596.2,414.2 L598.7,416.5 L601.1,418.9 L603.6,421.4 L606.0,424.0 L608.4,426.7 L610.7,429.5 L613.0,432.3 L615.2,435.2 L617.4,438.1 L619.6,441.1 L621.6,444.1 L623.6,447.2 L625.5,450.2 L627.3,453.3 L629.0,456.4 L630.7,459.5 L632.2,462.6 L633.6,465.6 L635.0,468.6 L636.2,471.6 L637.3,474.5 L638.3,477.4 L639.1,480.3 L639.9,483.0 L640.5,485.7 L640.9,488.3 L641.3,490.8 L641.5,493.2 L641.6,495.5 L641.6,497.7 L641.5,499.7 L641.2,501.7 L640.7,503.5 L640.2,505.2 L639.5,506.7 L638.7,508.1 L637.8,509.4 L636.8,510.5 L635.7,511.4" fill="none" stroke="#1a1a1a" stroke-width="1.6"/>
<path d="M549.9,404.0 L551.1,403.2 L552.5,402.6 L553.9,402.1 L555.4,401.8 L557.1,401.6 L558.8,401.6 L560.6,401.8 L562.5,402.1 L564.4,402.6 L566.5,403.2 L568.5,404.0 L570.7,404.9 L572.9,406.0 L575.2,407.2 L577.5,408.5 L579.8,410.0 L582.1,411.7 L584.5,413.4 L586.9,415.3 L589.3,417.3 L591.7,419.4 L594.1,421.7 L596.5,424.0 L598.9,426.4 L601.2,428.9 L603.5,431.5 L605.8,434.2 L608.0,437.0 L610.2,439.8 L612.3,442.6 L614.4,445.5 L616.4,448.4 L618.3,451.4 L620.2,454.4 L621.9,457.4 L623.6,460.4 L625.2,463.4 L626.7,466.4 L628.1,469.3 L629.4,472.3 L630.5,475.2 L631.6,478.0 L632.6,480.8 L633.4,483.6 L634.1,486.2 L634.7,488.8 L635.2,491.4 L635.5,493.8 L635.8,496.1 L635.8,498.3 L635.8,500.5 L635.7,502.5 L635.4,504.4 L635.0,506.1 L634.5,507.8 L633.8,509.3 L633.0,510.6 L632.2,511.9 L631.2,512.9 L630.0,513.9" fill="none" stroke="#1a1a1a" stroke-width="1.6"/>
<path d="M610.9,495.0 L610.2,495.4 L609.5,495.7 L608.6,495.9 L607.7,496.0 L606.8,496.0 L605.7,495.9 L604.6,495.7 L603.5,495.4 L602.3,495.0 L601.0,494.5 L599.8,493.8 L598.4,493.1 L597.0,492.3 L595.6,491.4 L594.2,490.4 L592.7,489.3 L591.2,488.1 L589.7,486.8 L588.2,485.5 L586.6,484.1 L585.1,482.6 L583.6,481.0 L582.0,479.4 L580.5,477.7 L579.0,476.0 L577.5,474.2 L576.0,472.4 L574.6,470.5 L573.1,468.6 L571.8,466.7 L570.4,464.7 L569.1,462.8 L567.9,460.8 L566.6,458.8 L565.5,456.9 L564.4,454.9 L563.4,453.0 L562.4,451.0 L561.5,449.1 L560.6,447.2 L559.9,445.4 L559.2,443.6 L558.5,441.9 L558.0,440.1 L557.5,438.5 L557.1,436.9 L556.8,435.4 L556.6,433.9 L556.4,432.6 L556.4,431.3 L556.4,430.0 L556.5,428.9 L556.7,427.8 L557.0,426.9 L557.3,426.0 L557.7,425.3 L558.2,424.6 L558.8,424.0 L559.5,423.6 L560.2,423.2" fill="none" stroke="#1a1a1a" stroke-width="1.6"/>
<path d="M606.3,497.4 L605.5,497.4 L604.8,497.4 L603.9,497.2 L603.1,496.9 L602.1,496.6 L601.2,496.2 L600.2,495.7 L599.1,495.1 L598.0,494.4 L596.9,493.6 L595.7,492.8 L594.5,491.9 L593.3,490.9 L592.0,489.9 L590.7,488.8 L589.4,487.6 L588.1,486.3 L586.8,485.0 L585.5,483.7 L584.1,482.3 L582.8,480.8 L581.5,479.3 L580.1,477.7 L578.8,476.1 L577.5,474.5 L576.2,472.9 L574.9,471.2 L573.6,469.5 L572.4,467.8 L571.1,466.0 L569.9,464.3 L568.8,462.5 L567.7,460.8 L566.6,459.0 L565.5,457.3 L564.5,455.5 L563.6,453.8 L562.6,452.1 L561.8,450.5 L561.0,448.8 L560.2,447.2 L559.5,445.6 L558.9,444.1 L558.3,442.6 L557.8,441.2 L557.3,439.8 L556.9,438.4 L556.6,437.1 L556.3,435.9 L556.1,434.8 L556.0,433.7 L555.9,432.7 L555.9,431.7 L555.9,430.8 L556.1,430.0 L556.3,429.3 L556.5,428.7 L556.8,428.1 L557.2,427.6 L557.7,427.3" fill="none" stroke="#1a1a1a" stroke-width="1.5"/>
<path d="M597.2,485.9 L596.9,486.1 L596.6,486.2 L596.2,486.3 L595.8,486.3 L595.4,486.2 L594.9,486.1 L594.4,485.9 L593.8,485.7 L593.2,485.4 L592.6,485.1 L592.0,484.7 L591.3,484.3 L590.6,483.8 L589.9,483.3 L589.2,482.7 L588.5,482.1 L587.7,481.4 L586.9,480.7 L586.1,479.9 L585.3,479.1 L584.5,478.3 L583.7,477.4 L582.9,476.5 L582.1,475.6 L581.2,474.6 L580.4,473.6 L579.6,472.6 L578.8,471.6 L578.0,470.6 L577.2,469.5 L576.5,468.5 L575.7,467.4 L575.0,466.3 L574.3,465.2 L573.6,464.2 L573.0,463.1 L572.3,462.0 L571.7,461.0 L571.1,459.9 L570.6,458.9 L570.1,457.9 L569.6,456.9 L569.1,456.0 L568.7,455.0 L568.4,454.1 L568.0,453.3 L567.7,452.4 L567.5,451.6 L567.3,450.8 L567.1,450.1 L567.0,449.4 L566.9,448.8 L566.9,448.2 L566.9,447.7 L566.9,447.2 L567.0,446.7 L567.1,446.3 L567.3,446.0 L567.5,445.7 L567.8,445.5" fill="none" stroke="#111" stroke-width="2.2"/>
</g>
<!-- /8 joint -->
<!-- 7 clamps -->
<defs>
<g id="clamp">
<ellipse cx="452.5" cy="576" rx="84" ry="32.5" transform="rotate(54.2 452.5 576)" fill="none" stroke="#2a2a2a" stroke-width="1.6"/>
<ellipse cx="465" cy="563.2" rx="83.5" ry="31.7" transform="rotate(54.2 465 563.2)" fill="none" stroke="#111" stroke-width="2.7"/>
<!-- band joint lines -->
<path d="M468,550.4 L498,536.2 M470,547 L499,533.5" stroke="#222" stroke-width="1.4" fill="none"/>
<path d="M503.4,619.3 L517.5,610.4 M504.5,622 L518.5,613" stroke="#222" stroke-width="1.4" fill="none"/>
<!-- buckle -->
<path d="M481.5,529 Q481,526 484,526.5 L488,527.5 Q490,529 489,531 Z" fill="#fff" stroke="#222" stroke-width="1.5" stroke-linejoin="round"/>
<path d="M482,533 Q481,530 484,530 L498.5,534.5 Q501,536.5 499,539 L485,536.5 Z" fill="#fff" stroke="#222" stroke-width="1.6" stroke-linejoin="round"/>
<path d="M487.5,538 L508.7,569.8 M491,538.5 L511,567" stroke="#222" stroke-width="1.6" fill="none"/>
<path d="M506.9,568.5 L519.3,566.3 L535.2,591 L521,603.4 L512,591 Z" fill="#fff" stroke="#1a1a1a" stroke-width="1.8" stroke-linejoin="round"/>
<path d="M511,576 L522,573 L528,581 L518,585 L521,590 L531,587 M512,591 L521,588" stroke="#222" stroke-width="1.5" fill="none"/>
</g>
</defs>
<use href="#clamp"/>
<use href="#clamp" transform="translate(225,-192)"/>
<!-- 1: o-ring -->
<g class="s">
<ellipse cx="227" cy="848" rx="64.5" ry="32.5" transform="rotate(23 227 848)"/>
<ellipse cx="227" cy="848.5" rx="57.5" ry="26" transform="rotate(23 227 848.5)"/>
</g>
<!-- 2: manifold -->
<g class="f" id="manifold">
<!-- flange outline -->
<path d="M175,733 L192.8,727.8 L196.7,724 L198.3,718.4 L202,710.6 L214.7,706.7 L219.4,706 L233.4,690.3 L282,631 L322,594 L342,578.6 L418,692 L369.4,735.3 L364.7,740 L353.75,746.25 L366,749.4 L367.8,758.75 L366,762.5 L360,780 L355,785 L325,790 L310,795 L305,800 L297.5,807.5 L280,810 L255,805 L220,790 L170,775 Q164,770 163.5,762 L167,749.7 Q169,738 175,733 Z"/>
</g>
<g class="s">
<!-- flange top face line -->
<path d="M171,741 Q188,752.5 230,766 Q265,780 297.5,783.75 Q310,780 319.4,769.7 L366,760.3"/>
<ellipse cx="191.2" cy="743.4" rx="10.5" ry="6" transform="rotate(18 191.2 743.4)"/>
<ellipse cx="353" cy="752.5" rx="8" ry="4.5" transform="rotate(20 353 752.5)"/>
<path d="M346.7,735.3 L317.8,769.7"/>
<path d="M364.7,740 L319.4,769.7"/>
<!-- lower cylinder left silhouette -->
<path d="M217.8,706 Q206,722 211.6,732.5 Q222,755 250,770 Q280,784 305,782.5 Q312,780 317,773"/>
<!-- upper tube lower end -->
<path d="M283.4,640 Q288,672 311.6,702.5 Q335,728 363,738.4 L369.4,736"/>
</g>
<!-- boss fitting -->
<g>
<path class="f" d="M233,652 L236,689.7 Q250,683 262,668 Q270,657 274,646 Q255,638 233,652 Z"/>
<ellipse cx="253" cy="649.5" rx="19.6" ry="8.6" transform="rotate(-10 253 649.5)" fill="#fff" stroke="#1e1e1e" stroke-width="2.2"/>
<path d="M239,654 Q241,646 255,643.5 Q268,643 270,648" fill="none" stroke="#1e1e1e" stroke-width="1.8"/>
<path d="M243,656.5 Q246,650 257,648.5 Q266,648 268,651" fill="none" stroke="#1e1e1e" stroke-width="1.6"/>
</g>
<!-- injector boss -->
<g class="f">
<path d="M279.8,545.4 L282.7,635.2 Q299,627 315,606 L321.8,594.2 L315,536.6 L314,528.8 Q301,522 288.6,528.8 L288,535.6 L285.6,537.6 Q280,540 279.8,545.4 Z"/>
</g>
<g class="s">
<path d="M279.8,545.4 Q293,539 307,547.3 L314,602"/>
<path d="M307,547.3 L315,536.6"/>
<path d="M288.6,528.8 Q301,532 314,528.8"/>
<ellipse cx="296" cy="542" rx="6" ry="3"/>
</g>
<!-- tube body -->
<g class="f">
<path d="M322,594 L344.1,576.2 L425.9,684.8 L369.4,735.3 Q335,728 311.6,702.5 Q288,672 283.4,640 L282.7,635.2 Q299,627 315,606 Z"/>
</g>
<g class="f" stroke-width="1.7"><ellipse cx="385.0" cy="630.5" rx="68" ry="26" transform="rotate(53 385.0 630.5)" /></g>
<g class="f" stroke-width="2.6"><ellipse cx="392.2" cy="625.1" rx="68" ry="26" transform="rotate(53 392.2 625.1)" /></g>
<g class="f" stroke-width="2.3"><ellipse cx="398.6" cy="620.3" rx="68" ry="26" transform="rotate(53 398.6 620.3)" /></g>
<g class="f" stroke-width="1.7"><ellipse cx="398.6" cy="620.3" rx="59" ry="22.6" transform="rotate(53 398.6 620.3)" /></g>
<!-- 6 bolts -->
<defs>
<g id="bolt">
<path d="M166.5,620 L151.2,667.8 Q152,675 160.6,676 L170,673.6 Q172,673 171.2,672.5 L185.5,624 Z" fill="#1c1c1c" stroke="#111" stroke-width="1.5" stroke-linejoin="round"/>
<path d="M165.5,625.9 Q174.7,630.2 183.9,628.6 M164.5,628.9 Q173.7,633.3 183.0,631.6 M163.4,632.0 Q172.8,636.4 182.1,634.7 M162.4,635.1 Q171.8,639.4 181.2,637.8 M161.4,638.1 Q170.8,642.5 180.3,640.8 M160.4,641.2 Q169.9,645.5 179.4,643.9 M159.4,644.3 Q168.9,648.6 178.5,647.0 M158.3,647.3 Q167.9,651.7 177.5,650.0 M157.3,650.4 Q167.0,654.8 176.6,653.1 M156.3,653.5 Q166.0,657.8 175.7,656.2 M155.3,656.5 Q165.1,660.9 174.8,659.2 M154.3,659.6 Q164.1,663.9 173.9,662.3 M153.2,662.7 Q163.1,667.0 173.0,665.4 M152.2,665.7 Q162.2,670.1 172.1,668.4 " stroke="#6a6a6a" stroke-width="0.9" fill="none"/>
<ellipse cx="180" cy="617" rx="16.2" ry="7.3" transform="rotate(20 180 617)" fill="#fff" stroke="#1a1a1a" stroke-width="2"/>
<path d="M174,594.2 Q181,593 187,594.6 Q194,598 197.6,604.3 L193.7,615.8 L189.5,621 Q182,621 175.9,618.7 L168.7,612 Z" fill="#fff" stroke="#1a1a1a" stroke-width="2" stroke-linejoin="round"/>
<path d="M173.5,600.4 L182.2,606.2 L191.8,608.1 L197.6,604.3 M182.2,606.2 L177.3,619.7 M191.8,608.1 L189.9,621.1" stroke="#1a1a1a" stroke-width="1.8" fill="none"/>
</g>
</defs>
<use href="#bolt"/>
<use href="#bolt" transform="translate(328,77)"/>
<g stroke="#555" stroke-width="1.3" stroke-dasharray="8,3,2,3">
<path d="M190.7,583 L156,680"/>
</g>
<!-- 3 injector -->
<g id="injector">
<!-- long lower body -->
<path class="f" d="M228.3,515 L229.3,548.2 Q234,552.5 248.6,553.5 Q262,552 270.7,545.3 L269.8,509.6 Z"/>
<path class="s" d="M259.2,538.6 L265.9,537.6 L265.9,549.2 M259.2,538.6 L260.6,551" stroke-width="1.6"/>
<!-- nozzle -->
<path class="f" d="M237,552 L238.5,562 L264,562 L265.5,551 Q250,555 237,552 Z" stroke-width="1.8"/>
<path class="s" d="M238,557 Q251,560 265,556.5" stroke-width="1.4"/>
<path d="M234.5,567.5 Q236,559 252,558.5 Q268,559 269.8,567.5 Q268,575 252,576 Q236,575 234.5,567.5 Z" fill="#fff" stroke="#1a1a1a" stroke-width="1.8"/>
<path d="M236,565 Q240,560 252,559.5 Q264,560 268.5,565 Q264,569 252,569.5 Q240,569 236,565 Z" fill="#2a2a2a"/>
<path d="M240,563 Q252,566.5 264,563" stroke="#999" stroke-width="1" fill="none"/>
<path d="M235.5,570 Q240,575.5 252,576 Q264,575.5 269,570 L268,578 Q262,584 251.4,584.5 Q241,584 237,578 Z" fill="#fff" stroke="#1a1a1a" stroke-width="1.8"/>
<path d="M238.5,577.5 Q244,582 251.4,582.5 Q260,582 266,577.5 Q266,583 251.4,585 Q240,584 238.5,577.5 Z" fill="#1a1a1a"/>
<!-- ring band -->
<path class="f" d="M232.2,505.8 L233.1,513.5 Q248.6,516 269.3,509.6 L268.8,503 Q250,507 232.2,505.8 Z"/>
<!-- mid body -->
<path class="f" d="M222.3,483.3 L233,505 Q250,507 268.3,503 L267.4,484.4 Z"/>
<circle cx="242.1" cy="496.2" r="6.3" class="f" stroke-width="1.8"/>
<path class="s" d="M236,496.2 L248.3,496.2 M242.1,490 L242.1,502.5" stroke-width="1.4"/>
<path class="s" d="M257,484 L258,503 M263,484 L264,503" stroke-width="1.4"/>
<!-- top bulb -->
<path class="f" d="M226.6,456.5 Q225,447 236,443 L256.6,443 Q264,447 262,459 L261,465 Q245,468 230.9,464 Q226,460 226.6,456.5 Z"/>
<ellipse cx="243.7" cy="448.4" rx="12.5" ry="6.2" fill="#fff" stroke="#1a1a1a" stroke-width="3"/>
<ellipse cx="243.5" cy="447.8" rx="7" ry="3.4" fill="#fff" stroke="#1a1a1a" stroke-width="1.6"/>
<!-- right clip tab -->
<path class="f" d="M258,452 L266.3,454.3 L273.8,454.3 Q276,456 275.4,461.9 L274.9,480.1 L267.4,484.4 L262,470 Z"/>
<path class="s" d="M262,468 L268,467 L268,482" stroke-width="1.5"/>
<!-- collar band -->
<path class="f" d="M221.2,467.2 Q220,470 222.3,483.3 L264.1,483.3 L266,467 Q245,465 221.2,467.2 Z"/>
<rect x="226.6" y="475" width="24.7" height="5.2" rx="2.5" fill="#fff" stroke="#1a1a1a" stroke-width="2"/>
<path class="s" d="M222,473.5 Q245,472 265,473" stroke-width="1.5"/>
<!-- connector -->
<path class="f" d="M206.1,460.8 L220.1,472.6 L225,486 L233,500 L234,524.2 L208.3,520.9 L199.7,511.3 L180.4,493.5 Z"/>
<path class="f" d="M181.4,495.1 L184.7,490.9 L201.9,505.9 L199.7,510.2 Z M193.3,482.3 L196.5,478 L214.7,493 L212.6,497.3 Z" stroke-width="1.8"/>
<path class="s" d="M206.1,460.8 L186,488 M234,524 L205,500" stroke-width="1.6"/>
<circle cx="194.5" cy="493" r="2.6" fill="#333"/>
<path d="M216.5,510 L219,514 L214.5,513.5 Z" fill="#222"/>
</g>
<!-- 5 bolt -->
<g id="bolt5">
<path d="M277.3,334 L277.8,357.1 Q284,361 292.6,357.1 L292.2,333 Z" fill="#1c1c1c" stroke="#111" stroke-width="1.5"/>
<path d="M277.5,338.6 Q285,341.1 292.4,338.1 M277.5,341.2 Q285,343.8 292.4,340.8 M277.5,343.9 Q285,346.4 292.4,343.4 M277.5,346.5 Q285,349.0 292.4,346.0 M277.5,349.1 Q285,351.6 292.4,348.6 M277.5,351.8 Q285,354.2 292.4,351.2 M277.5,354.4 Q285,356.9 292.4,353.9 " stroke="#666" stroke-width="0.8" fill="none"/>
<path class="f" d="M271,331 Q270,335 283.6,337 Q296,336 296.3,330 Q295,326 283.6,326 Q272,326 271,331 Z" stroke-width="1.8"/>
<path class="f" d="M272.4,319.5 L278,314.6 L289.1,313.9 L294.7,318.1 L296.1,327.9 Q290,333 283,333 L272.8,329 Z" stroke-width="2"/>
<path class="s" d="M272.4,319.5 L275.2,323 L286.4,320.9 L294.7,318.1 M275.2,323 L275.8,331 M286.4,320.9 L287,332.5" stroke-width="1.5"/>
</g>
<!-- 4 clip -->
<g id="clip">
<path class="f" d="M215.3,382.2 L217.4,421.2 Q220,427 227.9,427.4 Q240,429 248.7,426.7 Q262,424 264.8,419.8 L265.5,388 Z"/>
<path d="M224,413.5 L248.7,413.5 Q250,414 249,421.5 L225,422 Q223,421 224,413.5 Z" fill="#fff" stroke="#1a1a1a" stroke-width="1.8"/>
<path d="M225,420.5 L248.5,420.5" stroke="#1a1a1a" stroke-width="2"/>
<!-- plate -->
<path class="f" d="M225,383 Q230,372 251.5,371 L301.7,373.1 Q306,375 305.2,378 L300.3,387.5 Q298,391 292,391 L236,389.8 Q226,388 225,383 Z"/>
<path class="s" d="M230,386.5 Q260,388 299,386.5" stroke-width="1.4"/>
<ellipse cx="286.4" cy="380.5" rx="8" ry="3.8" class="f" stroke-width="1.8"/>
<path class="s" d="M280,381 Q286,378.5 293,381" stroke-width="1.3"/>
<!-- elbow -->
<path class="f" d="M219,369 Q218,355 228,349 Q238,343 246,350 Q251,358 250,372 Q249,378 244,381 L226,383 Q219,379 219,369 Z"/>
<path class="s" d="M226,360 Q236,356 244,364 Q248,370 249.4,376" stroke-width="1.6"/>
<path class="f" d="M215.6,378 Q214,370 220,367 L235,363 Q240,366 240,374 Q239,381 234,383 L222,386 Q216,384 215.6,378 Z"/>
<circle cx="222.3" cy="375.8" r="6.3" class="f" stroke-width="2.2"/>
<circle cx="222.3" cy="375.8" r="3.2" class="f" stroke-width="1.6"/>
</g>
<!-- leaders -->
<g class="ld">
<path d="M625,130 L677,160"/>
<path d="M345,292 L294.7,318.1"/>
<path d="M355,363 L304,383"/>
<path d="M137,452.6 L185,486"/>
<path d="M801,462 L730,436"/>
<path d="M690,546 L620,535"/>
<path d="M577,621 L511,616"/>
<path d="M124.5,725.7 L175,743"/>
<path d="M563,722 L506,732"/>
<path d="M131,797 L174,825"/>
<path d="M115,587.5 L162.5,627.5"/>
</g>
<g fill="#111">
<circle cx="174" cy="825.5" r="2"/><circle cx="175" cy="743" r="2"/><circle cx="185.2" cy="486.4" r="1.8"/>
<circle cx="677" cy="160" r="2"/><circle cx="730" cy="436.4" r="1.8"/><circle cx="510.7" cy="616.4" r="1.6"/>
</g>
<!-- dash-dot -->
<g stroke="#444" stroke-width="1.5" fill="none" stroke-dasharray="12,4,2,4">
<path d="M156,676 L152,693 L201,709 L187,747"/>
<path d="M350,764 L357,731 L380,738 L478,770 L485,755"/>
<path d="M525.3,645.5 L508,695"/>
</g>
<!-- labels -->
<path d="M124.8,805 L124.8,781.5 Q121,788 115.8,789.5" fill="none" stroke="#1a1a1a" stroke-width="2.8"/>
<g class="t">
<text x="603" y="139">9</text>
<text x="346" y="304">5</text>
<text x="357" y="373">4</text>
<text x="115" y="462">3</text>
<text x="798" y="477">7</text>
<text x="691" y="561">8</text>
<text x="95" y="596">6</text>
<text x="579" y="636">7</text>
<text x="104" y="737">2</text>
<text x="569" y="734">6</text>

</g>
</svg>
</body></html>
